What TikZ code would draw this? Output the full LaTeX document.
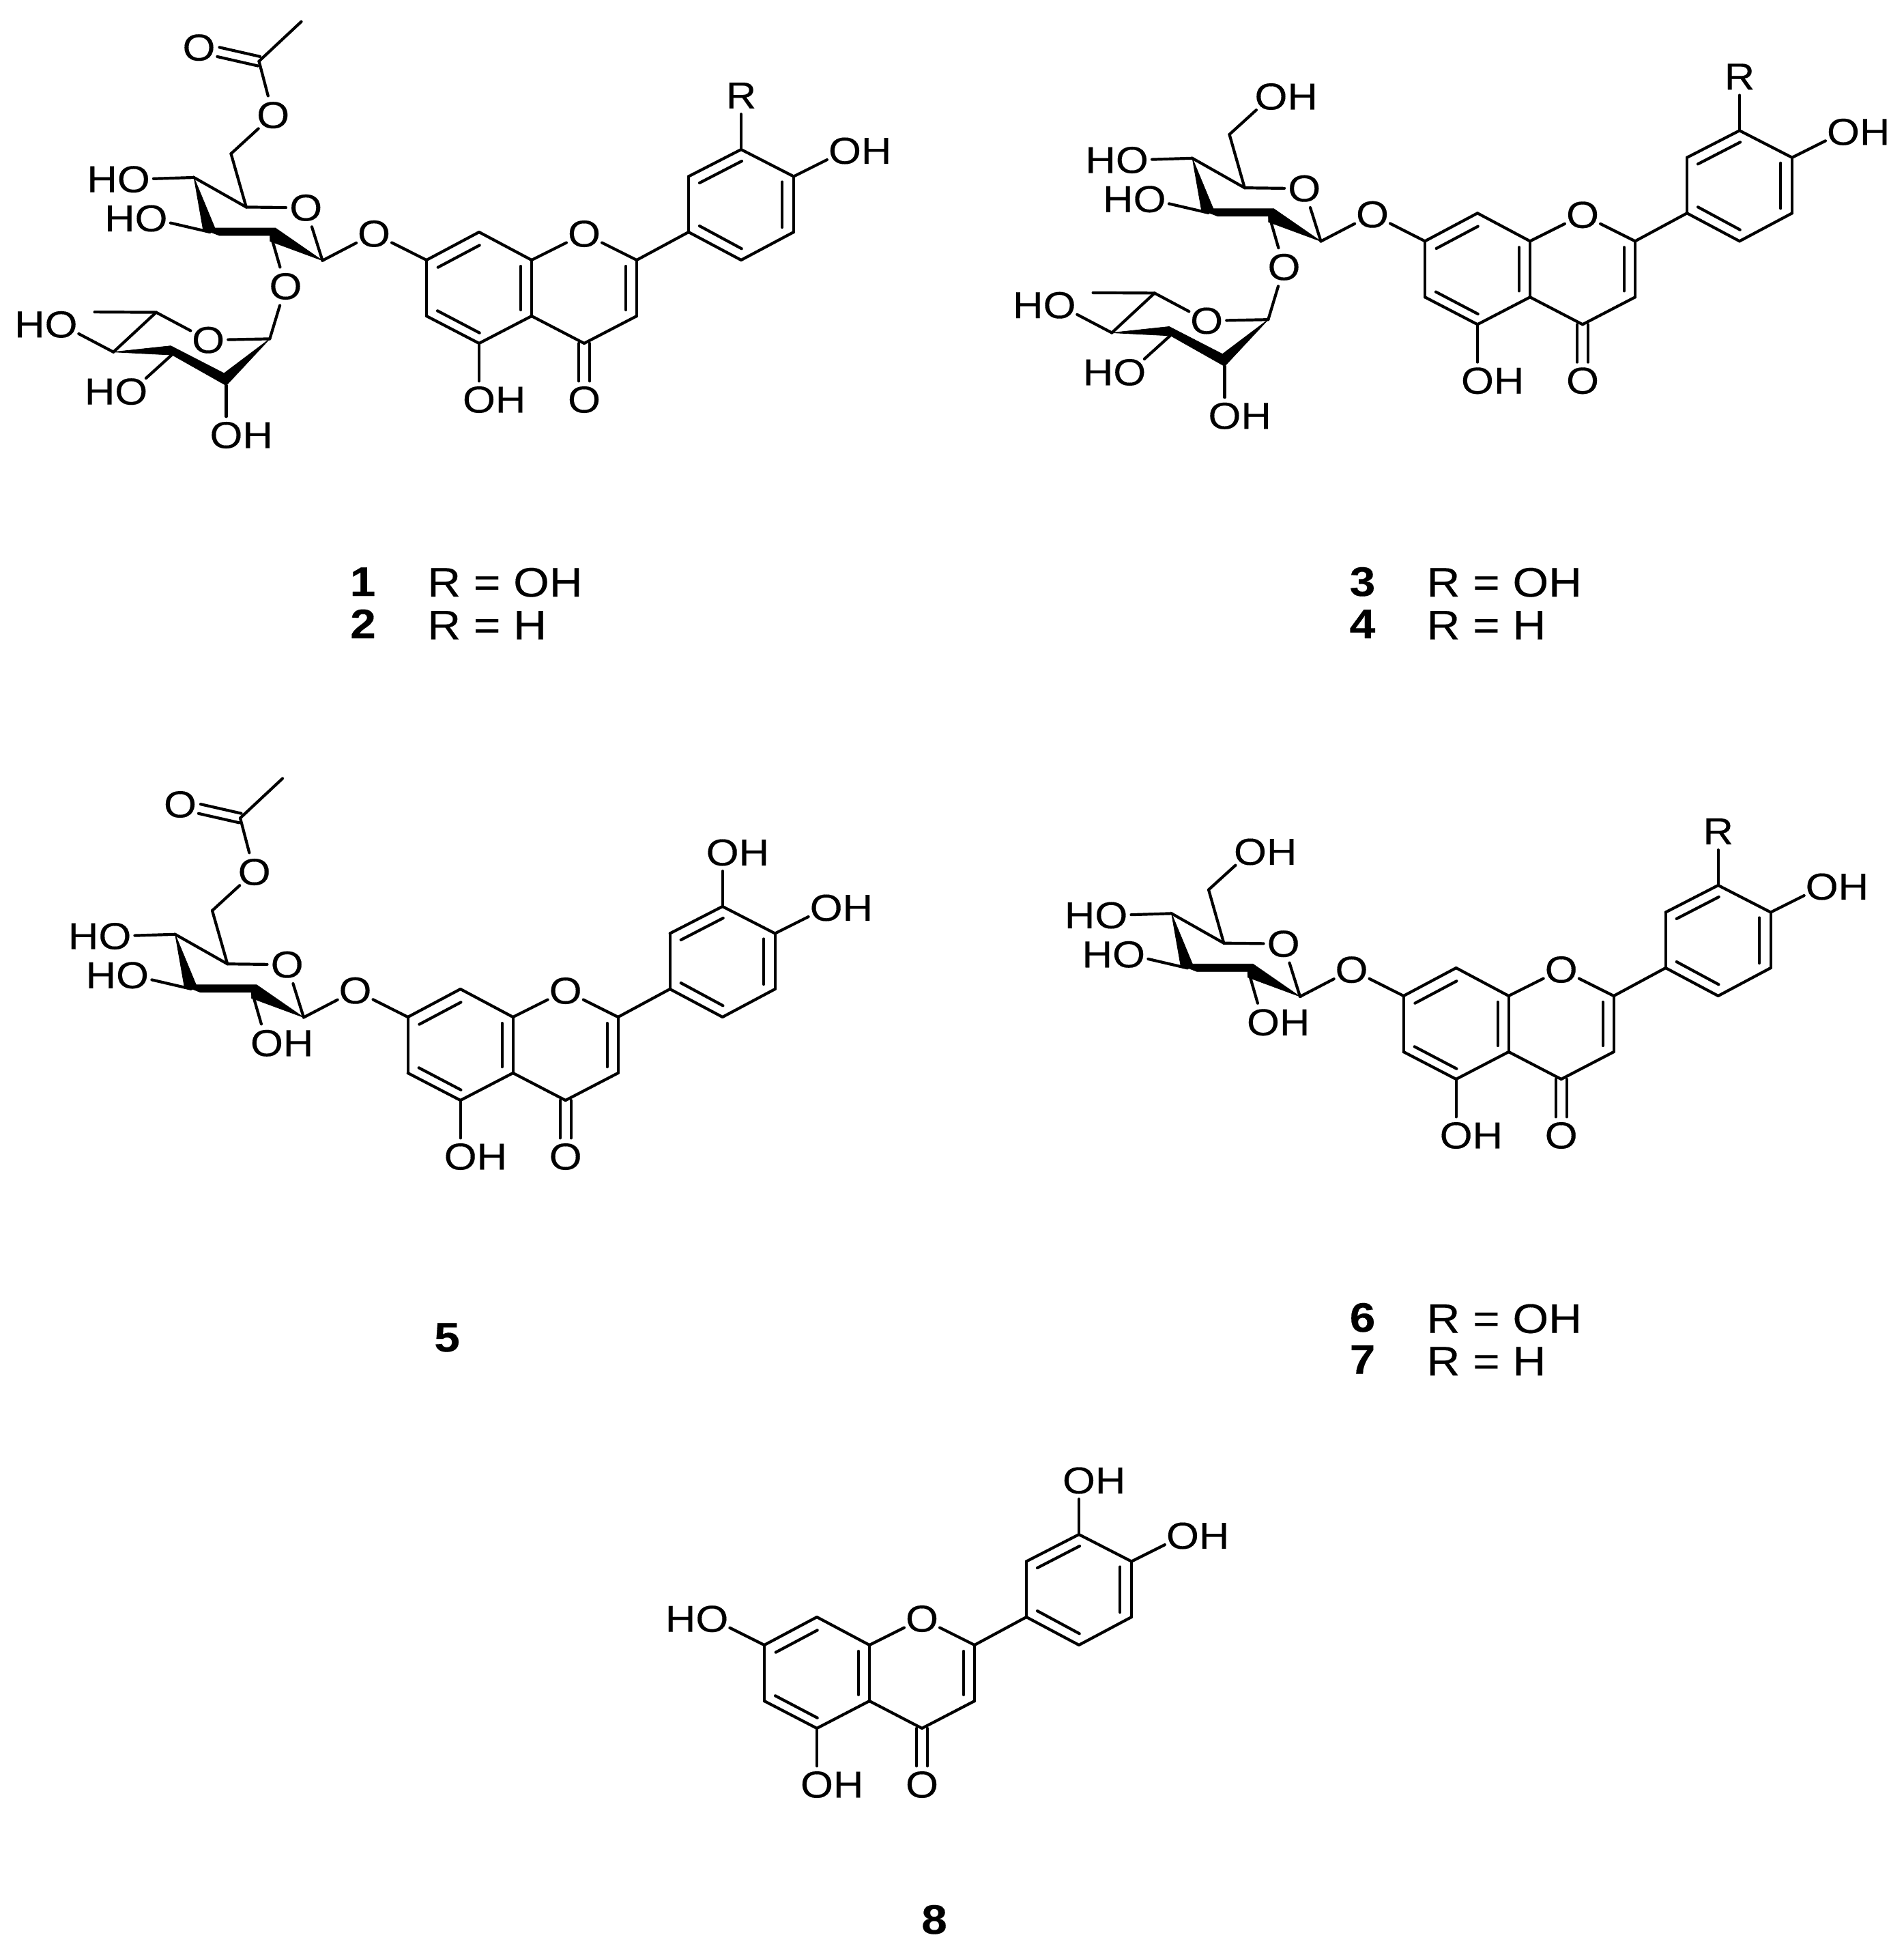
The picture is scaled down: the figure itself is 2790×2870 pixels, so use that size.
\documentclass[tikz,border=0pt]{standalone}
\usepackage{fontspec}
\setmainfont[FakeStretch=1.12,FakeBold=0.25]{Liberation Sans}
\usetikzlibrary{calc}
\tikzset{
  bond/.style={line width=1.05pt,line cap=round,line join=miter,black},
  toatom/.style={bond,shorten >=7.3pt},
  tovert/.style={bond,shorten >=6.8pt},
  wedge/.style={fill=black,draw=black,line width=0.2pt,line join=miter},
  atom/.style={inner sep=0pt,outer sep=0pt,font=\fontsize{13.75}{13.75}\selectfont},
  capt/.style={inner sep=0pt,outer sep=0pt,anchor=base west,font=\fontsize{15.1}{15.1}\selectfont},
  numb/.style={inner sep=0pt,outer sep=0pt,anchor=base,font=\fontsize{15.1}{15.1}\selectfont\bfseries}
}
% atom labels: the named coordinate sits at the centre of the bonded letter
\newcommand\lblO[3]{\coordinate (#1) at (#2,#3); \node[atom] (#1t) at (#1) {O};}
\newcommand\lblR[3]{\coordinate (#1) at (#2,#3); \node[atom] (#1t) at (#1) {R};}
\newcommand\lblOH[3]{\coordinate (#1) at (#2,#3); \node[atom,anchor=west,xshift=-6pt] (#1t) at (#1) {OH};}
\newcommand\lblHO[3]{\coordinate (#1) at (#2,#3); \node[atom,anchor=east,xshift=6pt] (#1t) at (#1) {HO};}
\newcommand\dbl[4]{%
  \draw[#4] ($(#1)!#3!90:(#2)$) -- ($(#2)!#3!-90:(#1)$);
  \draw[#4] ($(#1)!#3!-90:(#2)$) -- ($(#2)!#3!90:(#1)$);}
% flavone core: prefix, position of C7, label macro at C3'
\newcommand\flavone[4]{%
  \begin{scope}[shift={(#2,#3)}]
    \foreach \n/\xx/\yy in {a7/0/0,a8/77/-41,a8a/154/0,c2/308/0,c3/308/82,c4/231/122,c4a/154/82,a5/77/122,a6/0/82,
        b1/384/-41,b2/384/-122.5,b3/461/-162,b4/538/-122.5,b5/538/-41,b6/461/0}
      {\coordinate (#1\n) at (\xx,\yy);}
    \foreach \p/\q in {a7/a8,a8/a8a,a8a/c4a,c4a/a5,a5/a6,a6/a7,c2/c3,c3/c4,c4/c4a,c2/b1,b1/b2,b2/b3,b3/b4,b4/b5,b5/b6,b6/b1}
      {\draw[bond] (#1\p) -- (#1\q);}
    \foreach \n/\xa/\ya/\xb/\yb in {i1/16.7/10.7/77.7/-21.7,i2/16/74.3/77.7/106.7,i3/138/9/138/73,i4/292/9/292/73,
        i5/400/-113/462/-145,i6/400/-50/461.7/-16.7,i7/521.3/-114.5/521.3/-48}
      {\coordinate (#1\n s) at (\xa,\ya); \coordinate (#1\n e) at (\xb,\yb); \draw[bond] (#1\n s) -- (#1\n e);}
    \lblO{#1ro}{231}{-38.5}
    \draw[toatom] (#1a8a) -- (#1ro);
    \draw[toatom] (#1c2) -- (#1ro);
    \lblOH{#1oa}{77}{204.5}
    \draw[tovert] (#1a5) -- (#1oa);
    \lblO{#1ok}{231}{204.5}
    \dbl{#1c4}{#1ok}{2pt}{tovert}
    \lblOH{#1ob}{613}{-160}
    \draw[toatom] (#1b4) -- (#1ob);
    #4{#1sub}{461}{-241}
    \draw[tovert] (#1b3) -- (#1sub);
  \end{scope}}
% pyranose: prefix, position of the anomeric carbon, prefix of the flavone
\newcommand\pyranose[4]{%
  \begin{scope}[shift={(#2,#3)}]
    \foreach \n/\xx/\yy in {c1/0/0,c2/-75/-35,c3/-165/-41.7,c4/-188.3/-121.7,c5/-111.7/-78.3,c6/-134/-156.5}
      {\coordinate (#1\n) at (\xx,\yy);}
    \fill[wedge] (#1c4) -- (-157.7,-47.7) -- (-69,-47.7) -- (#1c1) -- (-76.7,-28.3) -- (-76.7,-36.7) -- (-151,-36.7) -- (-175,-46) -- cycle;
    \draw[bond] (#1c4) -- (#1c5);
    \draw[bond] (#1c5) -- (#1c6);
    \lblO{#1ro}{-24.3}{-77.3}
    \draw[toatom] (#1c5) -- (#1ro);
    \draw[toatom] (#1c1) -- (#1ro);
    \lblO{#1go}{75.5}{-39.3}
    \draw[toatom] (#1c1) -- (#1go);
    \draw[toatom] (#4a7) -- (#1go);
    \lblHO{#1h4}{-276.7}{-119}
    \draw[toatom] (#1c4) -- (#1h4);
    \lblHO{#1h3}{-251}{-61.7}
    \draw[toatom] (#1c3) -- (#1h3);
  \end{scope}}
\newcommand\acetyl[3]{%
  \begin{scope}[shift={(#2,#3)}]
    \lblO{#1oe}{-72.3}{-213}
    \draw[toatom] (#1c6) -- (#1oe);
    \coordinate (#1cc) at (-93,-292);
    \coordinate (#1me) at (-31,-350);
    \draw[toatom] (#1cc) -- (#1oe);
    \draw[bond] (#1cc) -- (#1me);
    \lblO{#1od}{-181}{-312}
    \dbl{#1cc}{#1od}{1.75pt}{toatom}
  \end{scope}}
\newcommand\hydroxymethyl[3]{%
  \begin{scope}[shift={(#2,#3)}]
    \lblOH{#1oe}{-73}{-212}
    \draw[toatom] (#1c6) -- (#1oe);
  \end{scope}}
\newcommand\seconeOH[3]{%
  \begin{scope}[shift={(#2,#3)}]
    \lblOH{#1so}{-54}{37.8}
    \draw[toatom] (#1c2) -- (#1so);
  \end{scope}}
\newcommand\rhamnose[3]{%
  \begin{scope}[shift={(#2,#3)}]
    \lblO{#1so}{-54}{37.8}
    \draw[toatom] (#1c2) -- (#1so);
    \foreach \n/\xx/\yy in {r1/-77.2/114.7,r3/-221/138.4,r2/-141/183,r4/-306.3/134,r5/-243.7/75.9,rm/-333.9/75.4}
      {\coordinate (#1\n) at (\xx,\yy);}
    \fill[wedge] (#1r1) -- (-144.2,165.2) -- (-222.3,125) -- (#1r4) -- (-220,138.4) -- (#1r2) -- cycle;
    \draw[toatom] (#1r1) -- (#1so);
    \lblO{#1rr}{-167.4}{116.5}
    \draw[toatom] (#1r1) -- (#1rr);
    \draw[toatom] (#1r5) -- (#1rr);
    \draw[bond] (#1r5) -- (#1rm);
    \draw[bond] (#1r5) -- (#1r4);
    \lblHO{#1h4r}{-383}{93.7}
    \draw[toatom] (#1r4) -- (#1h4r);
    \lblHO{#1h3r}{-280.3}{192}
    \draw[toatom] (#1r3) -- (#1h3r);
    \lblOH{#1h2r}{-141}{255.8}
    \draw[tovert] (#1r2) -- (#1h2r);
  \end{scope}}
\begin{document}
\begin{tikzpicture}[x=0.25pt,y=-0.25pt]
\path[use as bounding box,fill=white] (0,0) rectangle (2790,2870);
% 1, 2
\flavone{fa}{625}{381}{\lblR}
\pyranose{sa}{472.5}{381.7}{fa}
\acetyl{sa}{472.5}{381.7}
\rhamnose{sa}{472.5}{381.7}
\node[numb] (n1) at (531.5,873) {1};
\node[numb] (n2) at (532,935) {2};
\node[capt] (r1) at (626.3,874) {R = OH};
\node[capt] (r2) at (626.3,936.7) {R = H};
% 3, 4
\flavone{fb}{2088}{353.3}{\lblR}
\pyranose{sb}{1935.5}{353.5}{fb}
\hydroxymethyl{sb}{1935.5}{353.5}
\rhamnose{sb}{1935.5}{353.5}
\node[numb] (n3) at (1996.5,873) {3};
\node[numb] (n4) at (1996.5,935) {4};
\node[capt] (r3) at (2090.6,874) {R = OH};
\node[capt] (r4) at (2090.6,936.7) {R = H};
% 5
\flavone{fc}{597.7}{1490}{\lblOH}
\pyranose{sc}{445}{1490.5}{fc}
\acetyl{sc}{445}{1490.5}
\seconeOH{sc}{445}{1490.5}
\node[numb] (n5) at (655,1980) {5};
% 6, 7
\flavone{fd}{2056.7}{1459}{\lblR}
\pyranose{sd}{1905}{1460}{fd}
\hydroxymethyl{sd}{1905}{1460}
\seconeOH{sd}{1905}{1460}
\node[numb] (n6) at (1996.5,1951) {6};
\node[numb] (n7) at (1996.5,2012.7) {7};
\node[capt] (r6) at (2090.6,1952.7) {R = OH};
\node[capt] (r7) at (2090.6,2015) {R = H};
% 8
\flavone{fe}{1120}{2410}{\lblOH}
\lblHO{fehb}{1043.3}{2371.7}
\draw[toatom] (fea7) -- (fehb);
\node[numb] (n8) at (1369,2833) {8};
\end{tikzpicture}
\end{document}
